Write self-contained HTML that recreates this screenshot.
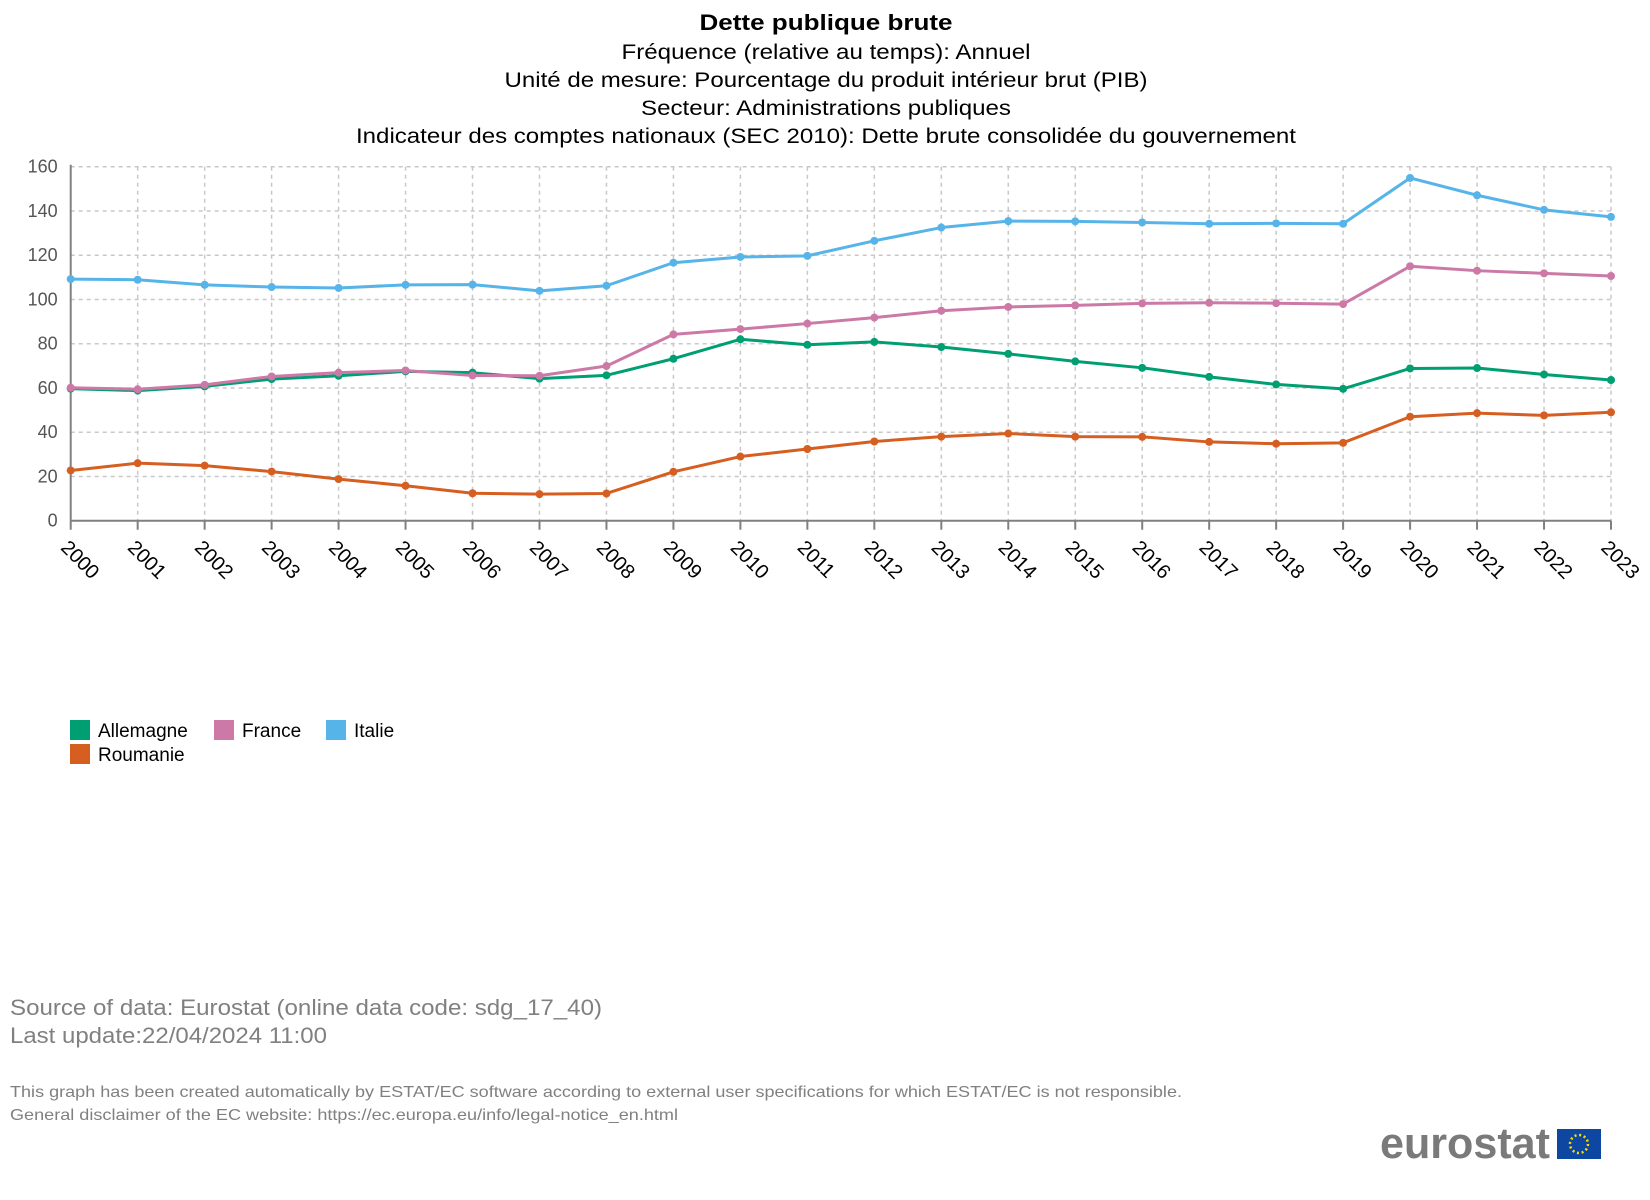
<!DOCTYPE html>
<html><head><meta charset="utf-8"><style>
html,body{margin:0;padding:0;background:#fff;}
svg{display:block;font-family:"Liberation Sans",Arial,sans-serif;}
</style></head><body>
<svg id="chart" width="1650" height="1200" viewBox="0 0 1650 1200" xmlns="http://www.w3.org/2000/svg">
<g text-anchor="middle">
<text x="826" y="30" font-size="22" font-weight="bold" fill="#000" textLength="253" lengthAdjust="spacingAndGlyphs">Dette publique brute</text>
<text x="826" y="59" font-size="21" fill="#000" textLength="409" lengthAdjust="spacingAndGlyphs">Fréquence (relative au temps): Annuel</text>
<text x="826" y="87" font-size="21" fill="#000" textLength="643" lengthAdjust="spacingAndGlyphs">Unité de mesure: Pourcentage du produit intérieur brut (PIB)</text>
<text x="826" y="115" font-size="21" fill="#000" textLength="370" lengthAdjust="spacingAndGlyphs">Secteur: Administrations publiques</text>
<text x="826" y="143" font-size="21" fill="#000" textLength="940" lengthAdjust="spacingAndGlyphs">Indicateur des comptes nationaux (SEC 2010): Dette brute consolidée du gouvernement</text>
</g>
<g id="grid"></g>
<g id="axes"></g>
<g id="series"></g>
<g font-size="19" fill="#000">
<g><rect x="70" y="720" width="20" height="20" fill="#009E73"/><text x="98" y="737">Allemagne</text></g>
<g><rect x="214" y="720" width="20" height="20" fill="#CC79A7"/><text x="242" y="737">France</text></g>
<g><rect x="326" y="720" width="20" height="20" fill="#56B4E9"/><text x="354" y="737">Italie</text></g>
<g><rect x="70" y="744" width="20" height="20" fill="#D55E20"/><text x="98" y="761">Roumanie</text></g>
</g>
<g fill="#808080">
<text x="10" y="1015" font-size="22" textLength="592" lengthAdjust="spacingAndGlyphs">Source of data: Eurostat (online data code: sdg_17_40)</text>
<text x="10" y="1043" font-size="22" textLength="317" lengthAdjust="spacingAndGlyphs">Last update:22/04/2024 11:00</text>
<text x="10" y="1097" font-size="16" textLength="1172" lengthAdjust="spacingAndGlyphs">This graph has been created automatically by ESTAT/EC software according to external user specifications for which ESTAT/EC is not responsible.</text>
<text x="10" y="1120" font-size="16" textLength="668" lengthAdjust="spacingAndGlyphs">General disclaimer of the EC website: https://ec.europa.eu/info/legal-notice_en.html</text>
</g>
<g>
<text x="1380" y="1158" font-size="44" font-weight="bold" fill="#7a7a7a" textLength="170" lengthAdjust="spacingAndGlyphs">eurostat</text>
<rect x="1557" y="1129" width="44" height="30" fill="#0E47A1"/>
<circle cx="1579" cy="1144" r="9" fill="none" stroke="#FFDD00" stroke-width="2.5" stroke-dasharray="2 2.7"/>
</g>
</svg>
<script>
const years = ["2000","2001","2002","2003","2004","2005","2006","2007","2008","2009","2010","2011","2012","2013","2014","2015","2016","2017","2018","2019","2020","2021","2022","2023"];
const yTicks = [0,20,40,60,80,100,120,140,160];
const allemagne = [59.7,58.8,60.7,64.0,65.5,67.5,66.9,64.2,65.7,73.2,82.0,79.5,80.8,78.5,75.4,72.0,69.1,65.0,61.6,59.6,68.8,69.0,66.1,63.6];
const france = [60.1,59.4,61.4,65.2,66.9,67.9,65.6,65.5,69.9,84.2,86.6,89.1,91.8,94.9,96.6,97.3,98.2,98.5,98.3,97.9,115.0,113.0,111.8,110.6];
const italie = [109.2,108.9,106.6,105.6,105.2,106.6,106.7,103.9,106.2,116.6,119.2,119.7,126.5,132.5,135.4,135.3,134.8,134.2,134.4,134.2,154.9,147.1,140.5,137.3];
const roumanie = [22.7,26.0,24.9,22.2,18.8,15.8,12.4,12.0,12.3,22.1,29.0,32.4,35.8,38.0,39.4,38.0,37.9,35.6,34.8,35.2,47.0,48.6,47.6,49.0];

const NS="http://www.w3.org/2000/svg";
const X0=70.7, X1=1611, Y0=520.7, Y1=166.7, YMAX=160;
function xScale(i){return X0+(X1-X0)*i/(years.length-1);}
function yScale(v){return Y0-(Y0-Y1)*v/YMAX;}
function mk(tag,attrs,parent){const e=document.createElementNS(NS,tag);for(const k in attrs)e.setAttribute(k,attrs[k]);parent.appendChild(e);return e;}
const grid=document.getElementById('grid'), axes=document.getElementById('axes'), series=document.getElementById('series');
yTicks.forEach(t=>{
  if(t>0){const l=mk('line',{x1:X0,x2:X1,y1:yScale(t),y2:yScale(t),stroke:'#c8c8c8','stroke-width':1.5,'stroke-dasharray':'4 4'},grid);
  
  }
  const tx=mk('text',{x:X0-13,y:yScale(t)+6,'text-anchor':'end','font-size':18,fill:'#555'},axes);
  tx.textContent=t;
  
  
});
years.forEach((y,i)=>{
  const x=xScale(i);
  if(i>0){const g=mk('line',{x1:x,x2:x,y1:Y1,y2:Y0,stroke:'#c8c8c8','stroke-width':1.5,'stroke-dasharray':'4 4'},grid);
  
  }
  const tk=mk('line',{x1:x,x2:x,y1:Y0,y2:Y0+9,stroke:'#808080','stroke-width':2},axes);
  
  
  const lx=x-11, ly=Y0+28;
  const tx=mk('text',{x:lx,y:ly,'font-size':20,fill:'#000',transform:`rotate(45 ${lx} ${ly})`},axes);
  tx.textContent=y;
  
  
});
const ya=mk('line',{x1:X0,x2:X0,y1:Y1-2,y2:Y0,stroke:'#808080','stroke-width':2},axes);


const xa=mk('line',{x1:X0,x2:X1,y1:Y0,y2:Y0,stroke:'#808080','stroke-width':2},axes);


function drawSeries(vals,color,name){
  const g=mk('g',{},series);
  
  
  const pts=vals.map((v,i)=>xScale(i)+','+yScale(v)).join(' ');
  const pl=mk('polyline',{points:pts,fill:'none',stroke:color,'stroke-width':3,'stroke-linejoin':'round'},g);
  
  
  vals.forEach((v,i)=>{
    const c=mk('circle',{cx:xScale(i),cy:yScale(v),r:4,fill:color},g);
    
    
  });
}
drawSeries(allemagne,'#009E73','allemagne');
drawSeries(france,'#CC79A7','france');
drawSeries(italie,'#56B4E9','italie');
drawSeries(roumanie,'#D55E20','roumanie');
</script>
</body></html>
